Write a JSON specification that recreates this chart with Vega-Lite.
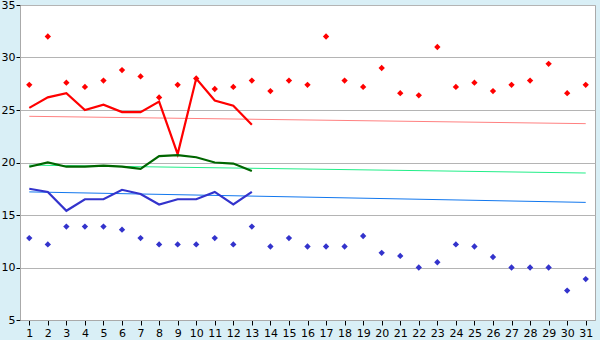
{
  "$schema": "https://vega.github.io/schema/vega-lite/v6.json",
  "width": 575,
  "height": 315,
  "autosize": {"type": "none"},
  "padding": {"left": 20, "top": 5, "right": 5, "bottom": 20},
  "background": "#d9eff6",
  "config": {
    "view": {"fill": "white", "stroke": "#aaaaaa", "strokeWidth": 1},
    "axis": {"labelFont": "DejaVu Sans", "labelFontSize": 11, "labelColor": "#000000", "title": null, "domainColor": "#aaaaaa", "tickColor": "#000000", "tickSize": 5, "gridColor": "#b4b4b4", "gridOpacity": 1}
  },
  "datasets": {
    "pts": [
      {"day": 1, "max": 27.4, "min": 12.8},
      {"day": 2, "max": 32.0, "min": 12.2},
      {"day": 3, "max": 27.6, "min": 13.9},
      {"day": 4, "max": 27.2, "min": 13.9},
      {"day": 5, "max": 27.8, "min": 13.9},
      {"day": 6, "max": 28.8, "min": 13.6},
      {"day": 7, "max": 28.2, "min": 12.8},
      {"day": 8, "max": 26.2, "min": 12.2},
      {"day": 9, "max": 27.4, "min": 12.2},
      {"day": 10, "max": 28.0, "min": 12.2},
      {"day": 11, "max": 27.0, "min": 12.8},
      {"day": 12, "max": 27.2, "min": 12.2},
      {"day": 13, "max": 27.8, "min": 13.9},
      {"day": 14, "max": 26.8, "min": 12.0},
      {"day": 15, "max": 27.8, "min": 12.8},
      {"day": 16, "max": 27.4, "min": 12.0},
      {"day": 17, "max": 32.0, "min": 12.0},
      {"day": 18, "max": 27.8, "min": 12.0},
      {"day": 19, "max": 27.2, "min": 13.0},
      {"day": 20, "max": 29.0, "min": 11.4},
      {"day": 21, "max": 26.6, "min": 11.1},
      {"day": 22, "max": 26.4, "min": 10.0},
      {"day": 23, "max": 31.0, "min": 10.5},
      {"day": 24, "max": 27.2, "min": 12.2},
      {"day": 25, "max": 27.6, "min": 12.0},
      {"day": 26, "max": 26.8, "min": 11.0},
      {"day": 27, "max": 27.4, "min": 10.0},
      {"day": 28, "max": 27.8, "min": 10.0},
      {"day": 29, "max": 29.4, "min": 10.0},
      {"day": 30, "max": 26.6, "min": 7.8},
      {"day": 31, "max": 27.4, "min": 8.9}
    ],
    "lines": [
      {"day": 1, "hi": 25.2, "mean": 19.6, "lo": 17.5},
      {"day": 2, "hi": 26.2, "mean": 20.0, "lo": 17.2},
      {"day": 3, "hi": 26.6, "mean": 19.6, "lo": 15.4},
      {"day": 4, "hi": 25.0, "mean": 19.6, "lo": 16.5},
      {"day": 5, "hi": 25.5, "mean": 19.7, "lo": 16.5},
      {"day": 6, "hi": 24.8, "mean": 19.6, "lo": 17.4},
      {"day": 7, "hi": 24.8, "mean": 19.4, "lo": 17.0},
      {"day": 8, "hi": 25.8, "mean": 20.6, "lo": 16.0},
      {"day": 9, "hi": 20.8, "mean": 20.7, "lo": 16.5},
      {"day": 10, "hi": 28.0, "mean": 20.5, "lo": 16.5},
      {"day": 11, "hi": 25.9, "mean": 20.0, "lo": 17.2},
      {"day": 12, "hi": 25.4, "mean": 19.9, "lo": 16.0},
      {"day": 13, "hi": 23.6, "mean": 19.2, "lo": 17.2}
    ],
    "trend": [
      {"day": 1, "hi": 24.4, "mean": 19.75, "lo": 17.2},
      {"day": 31, "hi": 23.7, "mean": 19.0, "lo": 16.2}
    ]
  },
  "encoding": {
    "x": {"field": "day", "type": "quantitative", "scale": {"domain": [0.5, 31.5], "nice": false, "zero": false},
          "axis": {"values": [1,2,3,4,5,6,7,8,9,10,11,12,13,14,15,16,17,18,19,20,21,22,23,24,25,26,27,28,29,30,31], "grid": false, "labelPadding": 2}}
  },
  "layer": [
    {"data": {"name": "pts"}, "mark": {"type": "rule", "opacity": 0}, "encoding": {"y": {"field": "max", "type": "quantitative", "scale": {"domain": [5, 35], "nice": false, "zero": false}, "axis": {"values": [5,10,15,20,25,30,35], "grid": true, "tickSize": 4, "labelPadding": 1}}}},
    {"data": {"name": "trend"}, "mark": {"type": "line", "color": "#ff8080", "strokeWidth": 1}, "encoding": {"y": {"field": "hi", "type": "quantitative"}}},
    {"data": {"name": "trend"}, "mark": {"type": "line", "color": "#22ee88", "strokeWidth": 1}, "encoding": {"y": {"field": "mean", "type": "quantitative"}}},
    {"data": {"name": "trend"}, "mark": {"type": "line", "color": "#1177ee", "strokeWidth": 1}, "encoding": {"y": {"field": "lo", "type": "quantitative"}}},
    {"data": {"name": "lines"}, "mark": {"type": "line", "color": "#ff0000", "strokeWidth": 2.2}, "encoding": {"y": {"field": "hi", "type": "quantitative"}}},
    {"data": {"name": "lines"}, "mark": {"type": "line", "color": "#006600", "strokeWidth": 2.2}, "encoding": {"y": {"field": "mean", "type": "quantitative"}}},
    {"data": {"name": "lines"}, "mark": {"type": "line", "color": "#3333cc", "strokeWidth": 2.2}, "encoding": {"y": {"field": "lo", "type": "quantitative"}}},
    {"data": {"name": "pts"}, "mark": {"type": "point", "shape": "diamond", "filled": true, "color": "#ff0000", "size": 40, "opacity": 1}, "encoding": {"y": {"field": "max", "type": "quantitative"}}},
    {"data": {"name": "pts"}, "mark": {"type": "point", "shape": "diamond", "filled": true, "color": "#3333cc", "size": 40, "opacity": 1}, "encoding": {"y": {"field": "min", "type": "quantitative"}}}
  ]
}
